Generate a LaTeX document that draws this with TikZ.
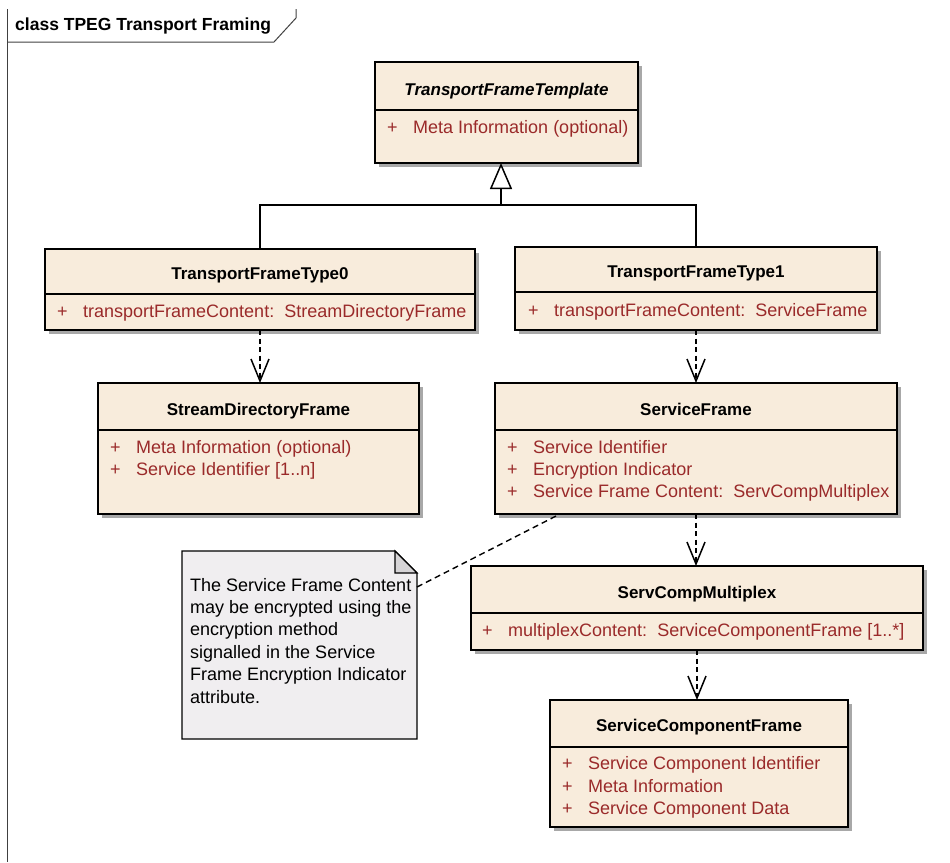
\documentclass[tikz,border=0pt]{standalone}
\usepackage{fontspec}
\setmainfont{Liberation Sans}
\usetikzlibrary{arrows.meta,shadows,calc}
\definecolor{boxfill}{HTML}{F8ECDC}
\definecolor{attrred}{HTML}{9A2A2A}
\definecolor{notefill}{HTML}{F0EEF0}
\definecolor{foldfill}{HTML}{D6D4D6}
\definecolor{shadowgray}{HTML}{A8A8A8}
\newcommand{\umltitlefont}{\fontsize{17}{20}\selectfont\bfseries}
\newcommand{\umlattrfont}{\fontsize{18}{22}\selectfont}
\newcommand{\plusgap}[1]{\makebox[26pt][l]{+}#1}
\begin{document}
\begin{tikzpicture}[x=1pt,y=-1pt,
  umlbox/.style={draw=black, line width=1.6pt, fill=boxfill, anchor=north west,
    inner sep=0pt, outer sep=0pt,
    drop shadow={shadow xshift=4pt, shadow yshift=-4pt, fill=shadowgray, opacity=1}},
  sepline/.style={draw=black, line width=1.6pt},
  ttl/.style={font=\umltitlefont, anchor=base, inner sep=0pt},
  attr/.style={font=\umlattrfont, text=attrred, anchor=base west, inner sep=0pt},
  notetext/.style={font=\umlattrfont, text=black, anchor=base west, inner sep=0pt},
  dep/.style={line width=1.8pt, dash pattern=on 5pt off 3.5pt, -{Straight Barb[length=22pt,width=18pt,line width=1.5pt]}},
  gen/.style={line width=1.8pt, -{Triangle[open,length=26pt,width=22pt,fill=white,line width=1.5pt]}},
  plainline/.style={line width=1.8pt},
  notelink/.style={line width=1.4pt, dash pattern=on 6pt off 4pt},
  framestyle/.style={draw=black!75, line width=1pt}]
\useasboundingbox (0,0) rectangle (950,862);

% diagram frame
\draw[framestyle] (7,9) -- (7,862);
\draw[framestyle] (7,42) -- (274,42) -- (296,18) -- (296,9);
\node[font=\fontsize{17.5}{20}\selectfont\bfseries, anchor=base west, inner sep=0pt] (frametitle) at (15,30) {class TPEG Transport Framing};

% TransportFrameTemplate
\node[umlbox, minimum width=263pt, minimum height=101pt] (tft) at (375,62) {};
\draw[sepline] ($(tft.north west)+(0,48)$) -- ($(tft.north east)+(0,48)$);
\node[ttl, font=\umltitlefont\itshape] (tftt) at ($(tft.north)+(0,33)$) {TransportFrameTemplate};
\node[attr] (tfta1) at ($(tft.north west)+(12,71)$) {\plusgap{Meta Information (optional)}};

% TransportFrameType0
\node[umlbox, minimum width=430pt, minimum height=81pt] (t0) at (45,249) {};
\draw[sepline] ($(t0.north west)+(0,45)$) -- ($(t0.north east)+(0,45)$);
\node[ttl] (t0t) at ($(t0.north)+(0,30)$) {TransportFrameType0};
\node[attr] (t0a1) at ($(t0.north west)+(12,68)$) {\plusgap{transportFrameContent:\ \ StreamDirectoryFrame}};

% TransportFrameType1
\node[umlbox, minimum width=362pt, minimum height=83pt] (t1) at (515,247) {};
\draw[sepline] ($(t1.north west)+(0,45)$) -- ($(t1.north east)+(0,45)$);
\node[ttl] (t1t) at ($(t1.north)+(0,30)$) {TransportFrameType1};
\node[attr] (t1a1) at ($(t1.north west)+(13,69)$) {\plusgap{transportFrameContent:\ \ ServiceFrame}};

% StreamDirectoryFrame
\node[umlbox, minimum width=321pt, minimum height=131pt] (sdf) at (98,383) {};
\draw[sepline] ($(sdf.north west)+(0,47)$) -- ($(sdf.north east)+(0,47)$);
\node[ttl] (sdft) at ($(sdf.north)+(0,32)$) {StreamDirectoryFrame};
\node[attr] (sdfa1) at ($(sdf.north west)+(12,70)$) {\plusgap{Meta Information (optional)}};
\node[attr] (sdfa2) at ($(sdf.north west)+(12,92)$) {\plusgap{Service Identifier [1..n]}};

% ServiceFrame
\node[umlbox, minimum width=402pt, minimum height=131pt] (sf) at (495,383) {};
\draw[sepline] ($(sf.north west)+(0,47)$) -- ($(sf.north east)+(0,47)$);
\node[ttl] (sft) at ($(sf.north)+(0,32)$) {ServiceFrame};
\node[attr] (sfa1) at ($(sf.north west)+(12,70)$) {\plusgap{Service Identifier}};
\node[attr] (sfa2) at ($(sf.north west)+(12,92)$) {\plusgap{Encryption Indicator}};
\node[attr] (sfa3) at ($(sf.north west)+(12,114)$) {\plusgap{Service Frame Content:\ \ ServCompMultiplex}};

% ServCompMultiplex
\node[umlbox, minimum width=452pt, minimum height=84pt] (scm) at (471,566) {};
\draw[sepline] ($(scm.north west)+(0,47)$) -- ($(scm.north east)+(0,47)$);
\node[ttl] (scmt) at ($(scm.north)+(0,32)$) {ServCompMultiplex};
\node[attr] (scma1) at ($(scm.north west)+(11,70)$) {\plusgap{multiplexContent:\ \ ServiceComponentFrame [1..*]}};

% ServiceComponentFrame
\node[umlbox, minimum width=298pt, minimum height=127pt] (scf) at (550,700) {};
\draw[sepline] ($(scf.north west)+(0,47)$) -- ($(scf.north east)+(0,47)$);
\node[ttl] (scft) at ($(scf.north)+(0,31)$) {ServiceComponentFrame};
\node[attr] (scfa1) at ($(scf.north west)+(12,69)$) {\plusgap{Service Component Identifier}};
\node[attr] (scfa2) at ($(scf.north west)+(12,92)$) {\plusgap{Meta Information}};
\node[attr] (scfa3) at ($(scf.north west)+(12,114)$) {\plusgap{Service Component Data}};

% Note
\node[anchor=north west, minimum width=235pt, minimum height=188pt, inner sep=0pt, outer sep=0pt] (note) at (182,551) {};
\filldraw[fill=notefill, draw=black, line width=1.4pt]
  (note.north west) -- ($(note.north east)+(-22,0)$) -- ($(note.north east)+(0,22)$)
  -- (note.south east) -- (note.south west) -- cycle;
\filldraw[fill=foldfill, draw=black, line width=1.2pt]
  ($(note.north east)+(-22,0)$) -- ($(note.north east)+(-22,22)$) -- ($(note.north east)+(0,22)$) -- cycle;
\foreach \t [count=\i] in {The Service Frame Content, may be encrypted using the, encryption method, signalled in the Service, Frame Encryption Indicator, attribute.}
  \node[notetext] (nl\i) at (190,{591+22.4*(\i-1)}) {\t};

% Generalization
\coordinate (gtip) at ($(tft.south)+(-5.5,0)$);
\coordinate (gj) at ($(gtip)+(0,42)$);
\draw[plainline] (t0.north) -- (t0.north |- gj) -- (t1.north |- gj) -- (t1.north);
\draw[gen] (gj) -- (gtip);

% Dependencies
\draw[dep] (t0.south) -- (t0.south |- sdf.north);
\draw[dep] (t1.south) -- (t1.south |- sf.north);
\draw[dep] (sf.south) -- (sf.south |- scm.north);
\draw[dep] (scm.south) -- (scm.south |- scf.north);

% Note link
\draw[notelink] ($(note.north east)+(0,36)$) -- ($(sf.south west)+(65,0)$);
\end{tikzpicture}
\end{document}
